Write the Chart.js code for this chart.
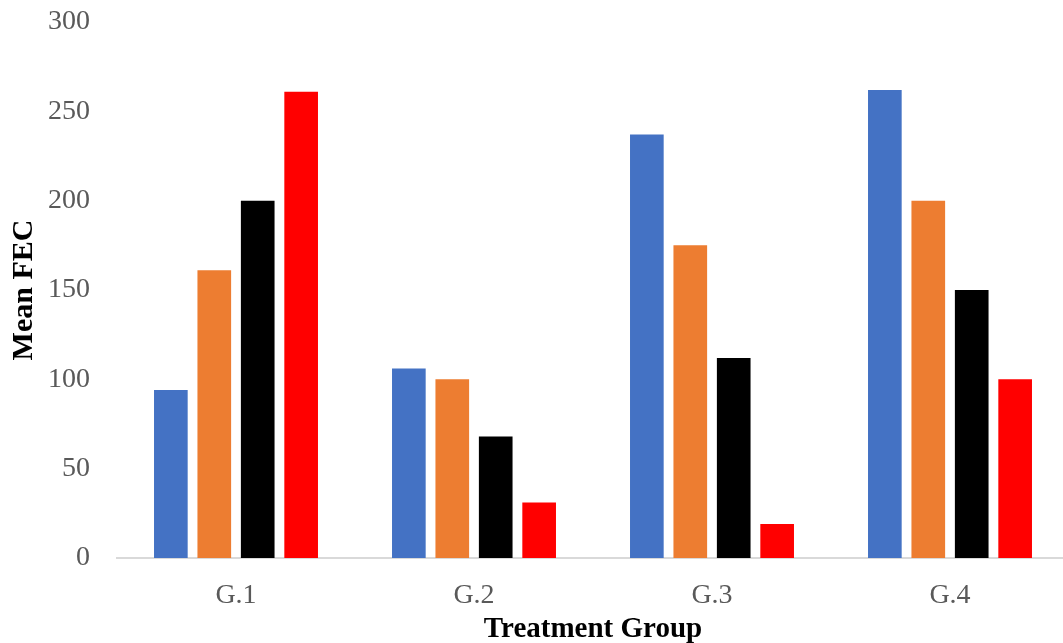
<!DOCTYPE html>
<html>
<head>
<meta charset="utf-8">
<script src="https://cdn.jsdelivr.net/npm/chart.js@4/dist/chart.umd.min.js"></script>
<style>
  html, body { margin: 0; padding: 0; background: #fff; }
</style>
</head>
<body>
<canvas id="fec" width="1063" height="643"></canvas>
<script>
  // Mean FEC per treatment group, four series each
  const groups = ['G.1', 'G.2', 'G.3', 'G.4'];
  const series1 = [94, 106, 237, 262];
  const series2 = [161, 100, 175, 200];
  const series3 = [200, 68, 112, 150];
  const series4 = [261, 31, 19, 100];
  const yTicks = [0, 50, 100, 150, 200, 250, 300];

  const serif = "'Liberation Serif', 'Times New Roman', serif";

  function ds(label, data, color) {
    return {
      label: label,
      data: data,
      backgroundColor: color,
      categoryPercentage: 0.73,
      barPercentage: 0.775
    };
  }

  // the plot area in the original runs a few px past the right edge
  const widenPlot = {
    id: 'widenPlot',
    afterLayout(chart) {
      const x = chart.scales.x;
      x.right = 1069;
      x.width = x.right - x.left;
      x.configure();
      chart.chartArea.right = 1069;
      chart.chartArea.width = 1069 - chart.chartArea.left;
    }
  };

  let ctx = document.getElementById('fec').getContext('2d');
  let fecChart = new Chart(ctx, {
    type: 'bar',
    data: {
      labels: groups,
      datasets: [
        ds('Series 1', series1, '#4472c4'),
        ds('Series 2', series2, '#ed7d31'),
        ds('Series 3', series3, '#000000'),
        ds('Series 4', series4, '#ff0000')
      ]
    },
    options: {
      responsive: false,
      animation: false,
      layout: { padding: { top: 22, right: 0, bottom: 0, left: 0 } },
      plugins: {
        legend: { display: false },
        tooltip: { enabled: false }
      },
      scales: {
        x: {
          grid: { display: false, drawTicks: false },
          border: { display: true, color: '#d9d9d9', width: 2 },
          ticks: {
            color: '#595959',
            font: { family: serif, size: 28 },
            padding: 21
          },
          title: {
            display: true,
            text: 'Treatment Group',
            color: '#000',
            font: { family: serif, size: 29, weight: 'bold' },
            padding: { top: 9, bottom: -4 }
          },
          afterFit: function (axis) {
            axis.height = 85;
            axis.paddingLeft = 0;
            axis.paddingRight = 0;
          }
        },
        y: {
          min: 0,
          max: 300,
          afterBuildTicks: function (axis) {
            axis.ticks = yTicks.map(v => ({ value: v }));
          },
          grid: { display: false, drawTicks: false },
          border: { display: false },
          ticks: {
            color: '#595959',
            font: { family: serif, size: 28 },
            padding: 27
          },
          title: {
            display: true,
            text: 'Mean FEC',
            color: '#000',
            font: { family: serif, size: 30, weight: 'bold' },
            padding: { top: 6, bottom: 6 }
          },
          afterFit: function (axis) {
            axis.width = 117;
            axis.paddingTop = 0;
            axis.paddingBottom = 0;
          }
        }
      }
    },
    plugins: [widenPlot]
  });
</script>
</body>
</html>
